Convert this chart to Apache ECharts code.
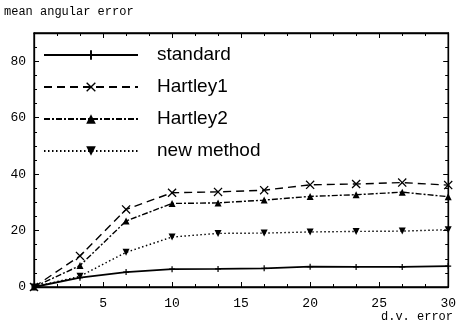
<!DOCTYPE html>
<html><head><meta charset="utf-8">
<script src="https://cdn.jsdelivr.net/npm/echarts@6/dist/echarts.min.js"></script>
<style>html,body{margin:0;padding:0;background:#fff}#c{width:459px;height:329px}</style>
</head><body><div id="c"></div>
<script>
const xValues = [0, 3.33, 6.67, 10, 13.33, 16.67, 20, 23.33, 26.67, 30];
const standard = [0, 3.3, 5.3, 6.3, 6.4, 6.6, 7.2, 7.1, 7.1, 7.4];
const hartley1 = [0, 11, 27.5, 33.4, 33.7, 34.3, 36.2, 36.5, 37, 36.1];
const hartley2 = [0, 7.6, 23.4, 29.6, 29.8, 30.8, 32.1, 32.7, 33.6, 32];
const newMethod = [0, 3.8, 12.3, 17.7, 19, 19.1, 19.5, 19.7, 19.8, 20.3];
const seriesNames = ['standard', 'Hartley1', 'Hartley2', 'new method'];
const xTicks = [5, 10, 15, 20, 25, 30];
const yTicks = [0, 20, 40, 60, 80];

const pts = arr => arr.map((v, i) => [xValues[i], v]);
const mono = 'Liberation Mono, Courier New, monospace';
const crossPath = 'path://M0,1 L1,0 L5,4 L9,0 L10,1 L6,5 L10,9 L9,10 L5,6 L1,10 L0,9 L4,5 Z';
const plusPath = 'path://M4,0H6V4H10V6H6V10H4V6H0V4H4Z';

function axis(extra, minorSplit) {
  return Object.assign({
    axisLine: {show: true, onZero: false, lineStyle: {color: '#000', width: 1.3}},
    axisTick: {show: true, inside: true, length: 5, lineStyle: {color: '#000'}},
    minorTick: {show: true, splitNumber: minorSplit, length: 3, lineStyle: {color: '#000'}},
    splitLine: {show: false}
  }, extra);
}
const lineCommon = {color: '#000', width: 1.4};
const chart = echarts.init(document.getElementById('c'));
chart.setOption({
  animation: false,
  backgroundColor: '#fff',
  grid: {left: 34, right: 10, top: 33, bottom: 42, show: true, borderColor: '#000', borderWidth: 1.3},
  legend: {
    show: true, orient: 'vertical', left: 38, top: 40,
    itemWidth: 94, itemHeight: 12, itemGap: 12,
    textStyle: {fontFamily: 'Liberation Sans, Arial, sans-serif', fontSize: 19, lineHeight: 20, color: '#000', padding: [0, 0, 0, 14]},
    data: seriesNames
  },
  xAxis: [
    axis({type: 'value', min: 0, max: 30, interval: 5, position: 'bottom',
      axisLabel: {fontFamily: mono, fontSize: 13, color: '#000', margin: 10,
        formatter: v => xTicks.includes(v) ? String(v) : ''}}, 3),
    axis({type: 'value', min: 0, max: 30, interval: 5, position: 'top',
      axisLabel: {show: false}}, 3)
  ],
  yAxis: [
    axis({type: 'value', min: 0, max: 90, interval: 20, position: 'left',
      axisLabel: {fontFamily: mono, fontSize: 13, color: '#000', margin: 8,
        formatter: v => yTicks.includes(v) ? String(v) : ''}}, 4),
    axis({type: 'value', min: 0, max: 90, interval: 20, position: 'right',
      axisLabel: {show: false}}, 4)
  ],
  graphic: [
    {type: 'text', left: 4, top: 6, style: {text: 'mean angular error', font: '12px ' + mono, fill: '#000'}},
    {type: 'text', right: 6, top: 311, style: {text: 'd.v. error', font: '12px ' + mono, fill: '#000'}}
  ],
  series: [
    {name: seriesNames[0], type: 'line', data: pts(standard), symbol: plusPath, symbolSize: 6,
      xAxisIndex: 0, yAxisIndex: 0,
      itemStyle: {color: '#000'}, lineStyle: Object.assign({type: 'solid'}, lineCommon, {width: 1.8})},
    {name: seriesNames[1], type: 'line', data: pts(hartley1), symbol: crossPath, symbolSize: 9,
      xAxisIndex: 1, yAxisIndex: 1,
      itemStyle: {color: '#000'}, lineStyle: Object.assign({type: [8, 5]}, lineCommon)},
    {name: seriesNames[2], type: 'line', data: pts(hartley2), symbol: 'triangle', symbolSize: 7,
      xAxisIndex: 0, yAxisIndex: 0,
      itemStyle: {color: '#000'}, lineStyle: Object.assign({type: [6, 2, 2, 2]}, lineCommon)},
    {name: seriesNames[3], type: 'line', data: pts(newMethod), symbol: 'triangle', symbolRotate: 180, symbolSize: 7,
      xAxisIndex: 0, yAxisIndex: 0,
      itemStyle: {color: '#000'}, lineStyle: Object.assign({type: [1.5, 2.5]}, lineCommon)}
  ]
});
</script></body></html>
